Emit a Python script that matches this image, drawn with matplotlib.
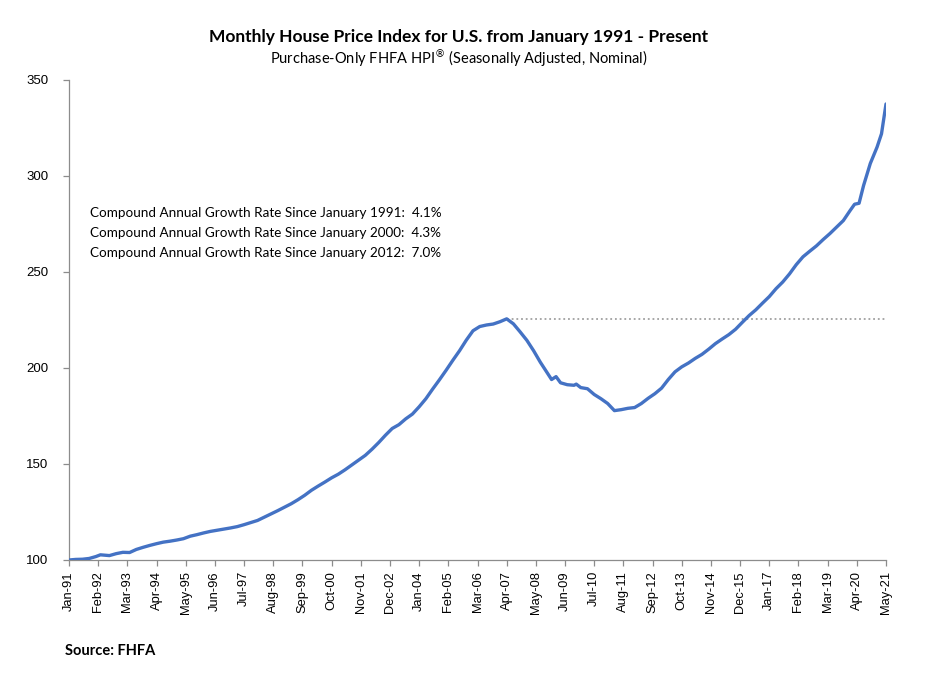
import matplotlib
matplotlib.use("Agg")
import matplotlib.pyplot as plt
import pandas as pd

# ---- data ----
dates = [
    "1991-01", "1991-04", "1991-07", "1991-10", "1992-01", "1992-03", "1992-07", "1992-10",
    "1993-01", "1993-04", "1993-07", "1993-10", "1994-01", "1994-04", "1994-07", "1994-10",
    "1995-01", "1995-04", "1995-07", "1995-10", "1996-01", "1996-04", "1996-07", "1996-10",
    "1997-01", "1997-04", "1997-07", "1997-10", "1998-01", "1998-04", "1998-07", "1998-10",
    "1999-01", "1999-04", "1999-07", "1999-10", "2000-01", "2000-04", "2000-07", "2000-10",
    "2001-01", "2001-04", "2001-07", "2001-10", "2002-01", "2002-04", "2002-07", "2002-10",
    "2003-01", "2003-04", "2003-07", "2003-10", "2004-01", "2004-04", "2004-07", "2004-10",
    "2005-01", "2005-04", "2005-07", "2005-10", "2006-01", "2006-04", "2006-07", "2006-10",
    "2007-01", "2007-04", "2007-07", "2007-10", "2008-01", "2008-04", "2008-07", "2008-10",
    "2008-12", "2009-02", "2009-04", "2009-07", "2009-10", "2009-11", "2010-01", "2010-04",
    "2010-07", "2010-10", "2011-01", "2011-04", "2011-07", "2011-10", "2012-01", "2012-04",
    "2012-07", "2012-10", "2013-01", "2013-04", "2013-07", "2013-10", "2014-01", "2014-04",
    "2014-07", "2014-10", "2015-01", "2015-04", "2015-07", "2015-10", "2016-01", "2016-04",
    "2016-07", "2016-10", "2017-01", "2017-04", "2017-07", "2017-10", "2018-01", "2018-04",
    "2018-07", "2018-10", "2019-01", "2019-04", "2019-07", "2019-10", "2020-01", "2020-03",
    "2020-05", "2020-07", "2020-10", "2021-01", "2021-03", "2021-05",
]
hpi = [
    100.0, 100.3, 100.4, 100.8, 101.8, 102.7, 102.3, 103.3,
    104.0, 103.9, 105.5, 106.6, 107.6, 108.5, 109.3, 109.8,
    110.4, 111.1, 112.4, 113.2, 114.1, 114.9, 115.5, 116.1,
    116.7, 117.4, 118.4, 119.5, 120.6, 122.3, 124.0, 125.7,
    127.5, 129.3, 131.4, 133.7, 136.3, 138.5, 140.6, 142.8,
    144.7, 147.0, 149.5, 152.0, 154.5, 157.7, 161.2, 165.0,
    168.5, 170.5, 173.5, 176.0, 179.8, 184.0, 189.0, 193.8,
    198.8, 204.0, 209.0, 214.5, 219.4, 221.6, 222.4, 222.9,
    224.1, 225.6, 223.0, 218.8, 214.4, 209.0, 203.0, 197.6,
    194.0, 195.5, 192.3, 191.3, 191.0, 191.6, 189.8, 189.2,
    186.2, 184.0, 181.5, 177.8, 178.3, 179.0, 179.4, 181.5,
    184.2, 186.6, 189.5, 194.0, 198.0, 200.6, 202.6, 205.0,
    207.1, 209.8, 212.7, 215.1, 217.4, 220.2, 223.8, 227.3,
    230.3, 233.8, 237.2, 241.3, 244.8, 249.0, 253.8, 257.9,
    260.8, 263.6, 266.9, 270.0, 273.4, 276.8, 282.0, 285.3,
    285.8, 295.0, 306.5, 315.0, 322.0, 337.5,
]
tick_dates = [
    "1991-01", "1992-02", "1993-03", "1994-04", "1995-05", "1996-06", "1997-07", "1998-08",
    "1999-09", "2000-10", "2001-11", "2002-12", "2004-01", "2005-02", "2006-03", "2007-04",
    "2008-05", "2009-06", "2010-07", "2011-08", "2012-09", "2013-10", "2014-11", "2015-12",
    "2017-01", "2018-02", "2019-03", "2020-04", "2021-05",
]
peak_date = "2007-04"
peak_value = 225.6
y_ticks = [100, 150, 200, 250, 300, 350]
title = "Monthly House Price Index for U.S. from January 1991 - Present"
subtitle = "Purchase-Only FHFA HPI$^{®}$ (Seasonally Adjusted, Nominal)"
cagr_lines = [
    "Compound Annual Growth Rate Since January 1991:  4.1%",
    "Compound Annual Growth Rate Since January 2000:  4.3%",
    "Compound Annual Growth Rate Since January 2012:  7.0%",
]
source = "Source: FHFA"

# ---- helpers ----
base = pd.Period("1991-01", freq="M")
def mo(d):
    return (pd.Period(d, freq="M") - base).n

x = [mo(d) for d in dates]
tx = [mo(d) for d in tick_dates]
tlabels = [pd.Period(d, freq="M").strftime("%b-%y") for d in tick_dates]

W, H = 935, 679
fig = plt.figure(figsize=(W / 100, H / 100), dpi=100)
ax = fig.add_axes([69 / W, 1 - 560 / H, (886 - 69) / W, (560 - 80) / H])

blue = "#4472C4"
gray = "#8C8C8C"
ax.plot(x, hpi, color=blue, lw=2.4, solid_joinstyle="round", solid_capstyle="round", zorder=3)
ax.plot([mo(peak_date), tx[-1]], [peak_value, peak_value], color="#A0A0A0", lw=1.3,
        linestyle=(0, (1.0, 1.6)), zorder=2)

ax.set_xlim(tx[0], tx[-1])
ax.set_ylim(y_ticks[0], y_ticks[-1])
ax.set_yticks(y_ticks)
ax.set_xticks(tx)
ax.set_xticklabels(tlabels, rotation=90, fontfamily="Liberation Sans", fontsize=9.3)
for lab in ax.get_yticklabels():
    lab.set_fontfamily("Liberation Sans")
    lab.set_fontsize(9.5)

for s in ["top", "right"]:
    ax.spines[s].set_visible(False)
for s in ["left", "bottom"]:
    ax.spines[s].set_color(gray)
    ax.spines[s].set_linewidth(0.9)
ax.tick_params(axis="both", direction="out", length=4, width=0.9, color=gray)
ax.tick_params(axis="y", pad=11)
ax.tick_params(axis="x", pad=4)

fig.text(459 / W, 1 - 37 / H, title, ha="center", va="center",
         fontfamily="Lato", fontweight="bold", fontsize=12.5)
fig.text(459 / W, 1 - 58 / H, subtitle, ha="center", va="center",
         fontfamily="Lato", fontsize=10.5)
for i, line in enumerate(cagr_lines):
    fig.text(90 / W, 1 - (213 + 20 * i) / H, line, ha="left", va="center",
             fontfamily="Lato", fontsize=9.7)
fig.text(65 / W, 1 - 651 / H, source, ha="left", va="center",
         fontfamily="Lato", fontweight="bold", fontsize=10.5)

fig.savefig("out.png", dpi=100)
